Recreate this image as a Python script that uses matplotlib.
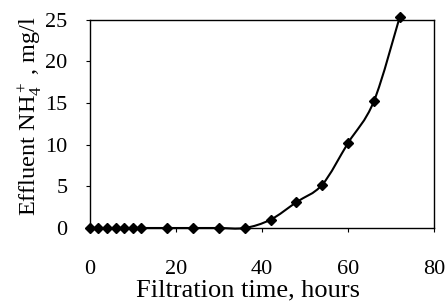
import numpy as np
import matplotlib
matplotlib.use("Agg")
import matplotlib.pyplot as plt
from matplotlib.path import Path
from matplotlib.patches import PathPatch

plt.rcParams['font.family'] = ['Liberation Serif', 'DejaVu Serif']
plt.rcParams['mathtext.fontset'] = 'custom'
plt.rcParams['mathtext.rm'] = 'Liberation Serif'
plt.rcParams['mathtext.it'] = 'Liberation Serif:italic'

time_hours = [0, 2, 4, 6, 8, 10, 12, 18, 24, 30, 36, 42, 48, 54, 60, 66, 72]
nh4_mgl = [0, 0, 0, 0, 0, 0, 0, 0, 0, 0, 0, 1.0, 3.1, 5.2, 10.2, 15.2, 25.3]
x_ticks = [0, 20, 40, 60, 80]
y_ticks = [0, 5, 10, 15, 20, 25]

fig = plt.figure(figsize=(4.47, 3.01), dpi=100)
ax = fig.add_axes([0.201, 0.2425, 0.77, 0.6915])

# smoothed line (Catmull-Rom -> cubic Bezier), as in spreadsheet "smoothed line"
x = np.array(time_hours, float)
y = np.array(nh4_mgl, float)
verts = [(x[0], y[0])]
codes = [Path.MOVETO]
n = len(x)
t = 1 / 6
for i in range(n - 1):
    p0 = (x[i - 1], y[i - 1]) if i > 0 else (x[i], y[i])
    p1 = (x[i], y[i])
    p2 = (x[i + 1], y[i + 1])
    p3 = (x[i + 2], y[i + 2]) if i + 2 < n else (x[i + 1], y[i + 1])
    c1 = (p1[0] + (p2[0] - p0[0]) * t, p1[1] + (p2[1] - p0[1]) * t)
    c2 = (p2[0] - (p3[0] - p1[0]) * t, p2[1] - (p3[1] - p1[1]) * t)
    verts += [c1, c2, p2]
    codes += [Path.CURVE4] * 3
ax.add_patch(PathPatch(Path(verts, codes), fill=False, lw=1.5, color='black',
                       clip_on=False, zorder=2))
ax.plot(time_hours, nh4_mgl, linestyle='none', marker='D', ms=5.5,
        color='black', clip_on=False, zorder=3)

ax.set_xlim(0, 80)
ax.set_ylim(0, 25)
ax.set_xticks(x_ticks)
ax.set_yticks(y_ticks)
ax.tick_params(axis='x', direction='out', length=3, width=0.8, pad=20, labelsize=16)
ax.tick_params(axis='y', direction='out', length=3, width=0.8, pad=13, labelsize=16)
for s in ax.spines.values():
    s.set_linewidth(1.0)
ax.set_xlabel('Filtration time, hours', fontsize=19, va='baseline')
ax.xaxis.set_label_coords(0.459, -0.327)
ax.set_ylabel(r'Effluent NH$_4^+$ , mg/l', fontsize=17.5, va='center')
ax.yaxis.set_label_coords(-0.172, 0.536)

fig.savefig('out.png', dpi=100)
